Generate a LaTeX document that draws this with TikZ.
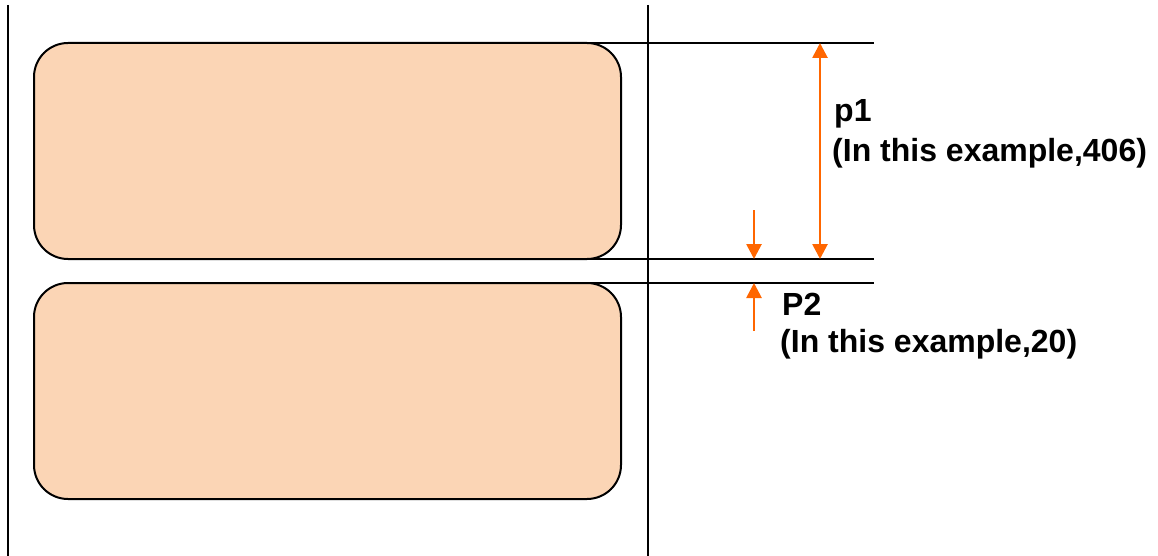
\documentclass[tikz,border=0pt]{standalone}
\usepackage{fontspec}
\setmainfont{Liberation Sans}
\usetikzlibrary{arrows.meta}
\definecolor{boxfill}{HTML}{FBD5B5}
\definecolor{dimorange}{HTML}{FF6600}
\begin{document}
\begin{tikzpicture}[x=1pt,y=-1pt,
  labelbox/.style={draw=black,line width=2pt,fill=boxfill,rounded corners=34pt,
    minimum width=587pt,minimum height=216pt,inner sep=0pt},
  guide/.style={draw=black,line width=2pt},
  dimarrow/.style={draw=dimorange,line width=2.7pt,-{Triangle[length=15pt,width=15pt]}},
  dimboth/.style={draw=dimorange,line width=2.7pt,{Triangle[length=15pt,width=15pt]}-{Triangle[length=15pt,width=15pt]}},
  lbl/.style={font=\bfseries\fontsize{32}{39}\selectfont,anchor=base west,inner sep=0pt}]
\useasboundingbox (0,0) rectangle (1158,556);
% vertical edges
\coordinate (lt) at (8,5); \coordinate (lb) at (8,556);
\coordinate (mt) at (648,5); \coordinate (mb) at (648,556);
\draw[guide] (lt) -- (lb);
\draw[guide] (mt) -- (mb);
% labels
\node[labelbox] (box1) at (327.5,151) {};
\node[labelbox] (box2) at (327.5,391) {};
% guide lines
\coordinate (g1a) at (590,43);  \coordinate (g1b) at (874,43);
\coordinate (g2a) at (590,259); \coordinate (g2b) at (874,259);
\coordinate (g3a) at (590,283); \coordinate (g3b) at (874,283);
\draw[guide] (g1a) -- (g1b);
\draw[guide] (g2a) -- (g2b);
\draw[guide] (g3a) -- (g3b);
% p1 dimension
\coordinate (p1t) at (820,43); \coordinate (p1b) at (820,259);
\draw[dimboth] (p1t) -- (p1b);
% p2 dimension
\coordinate (p2s) at (754,210); \coordinate (p2e) at (754,259);
\coordinate (p2u) at (754,331); \coordinate (p2f) at (754,283);
\draw[dimarrow] (p2s) -- (p2e);
\draw[dimarrow] (p2u) -- (p2f);
% texts
\node[lbl] (t1a) at (834,122) {p1};
\node[lbl] (t1b) at (832,161) {(In this example,406)};
\node[lbl] (t2a) at (782,315) {P2};
\node[lbl] (t2b) at (780,352) {(In this example,20)};
\end{tikzpicture}
\end{document}
